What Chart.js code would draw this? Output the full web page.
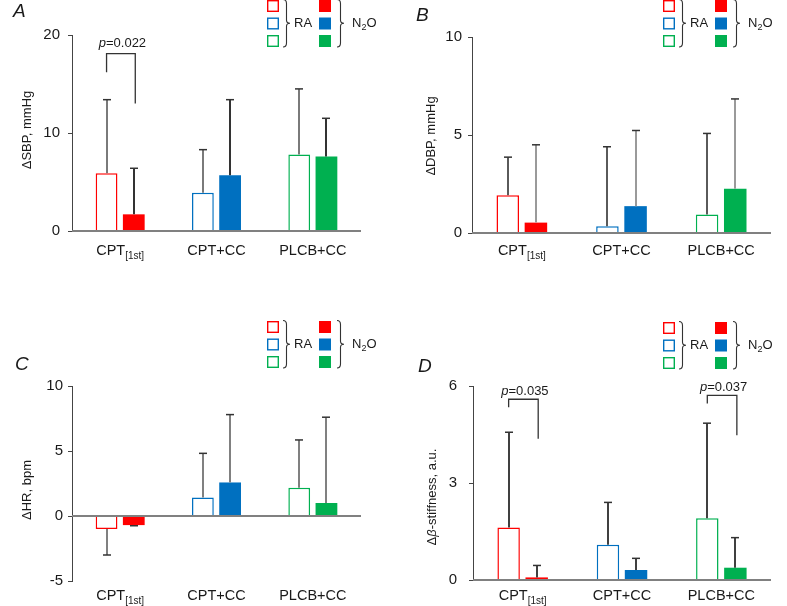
<!DOCTYPE html>
<html>
<head>
<meta charset="utf-8">
<script src="https://cdn.jsdelivr.net/npm/chart.js@4.4.1/dist/chart.umd.min.js"></script>
<style>
  html, body { margin: 0; padding: 0; background: #fff; }
  #wrap { position: relative; width: 787px; height: 606px; }
  #wrap canvas { position: absolute; }
</style>
</head>
<body>
<div id="wrap">
  <canvas id="pA" width="393" height="300" style="left:0;top:0"></canvas>
  <canvas id="pB" width="394" height="300" style="left:393px;top:0"></canvas>
  <canvas id="pC" width="393" height="306" style="left:0;top:300px"></canvas>
  <canvas id="pD" width="394" height="306" style="left:393px;top:300px"></canvas>
</div>
<script>
// categorias e subscritos dos rótulos do eixo x
var CATEGORIES = ["CPT", "CPT+CC", "PLCB+CC"];
var CATEGORY_SUBS = ["[1st]", "", ""];
var GROUP_COLORS = ["#ff0000", "#0070c0", "#00b050"];

// A -- ΔSBP (mmHg)
var SBP_RA = [5.9, 3.9, 7.8];
var SBP_RA_SD = [7.5, 4.4, 6.7];
var SBP_N2O = [1.7, 5.7, 7.6];
var SBP_N2O_SD = [4.7, 7.7, 3.9];
var SBP_TICKS = [0, 10, 20];
var SBP_BRACKETS = [{ cat: 0, top: 18.1, left: 16.2, right: 13.0, text: "=0.022" }];

// B -- ΔDBP (mmHg)
var DBP_RA = [1.92, 0.34, 0.94];
var DBP_RA_SD = [1.95, 4.06, 4.14];
var DBP_N2O = [0.53, 1.37, 2.26];
var DBP_N2O_SD = [3.97, 3.86, 4.58];
var DBP_TICKS = [0, 5, 10];

// C -- ΔHR (bpm)
var HR_RA = [-1.0, 1.43, 2.18];
var HR_RA_SD = [2.0, 3.39, 3.67];
var HR_N2O = [-0.7, 2.58, 1.0];
var HR_N2O_SD = [0.05, 5.22, 6.6];
var HR_TICKS = [-5, 0, 5, 10];

// D -- Δβ-stiffness (a.u.)
var STIFF_RA = [1.62, 1.09, 1.91];
var STIFF_RA_SD = [2.95, 1.31, 2.94];
var STIFF_N2O = [0.08, 0.31, 0.38];
var STIFF_N2O_SD = [0.37, 0.36, 0.93];
var STIFF_TICKS = [0, 3, 6];
var STIFF_BRACKETS = [
  { cat: 0, top: 5.59, left: 5.34, right: 4.37, text: "=0.035" },
  { cat: 2, top: 5.71, left: 5.46, right: 4.48, text: "=0.037" },
];

var FONT = "'Liberation Sans', Arial, sans-serif";
var INK = "#1a1a1a";

function font(size, italic) {
  return (italic ? "italic " : "") + size + "px " + FONT;
}

// chave "}" desenhada à mão
function brace(ctx, x, top, bottom, w) {
  var mid = (top + bottom) / 2, xm = x + w * 0.5;
  ctx.beginPath();
  ctx.moveTo(x, top);
  ctx.quadraticCurveTo(xm, top, xm, top + 4);
  ctx.lineTo(xm, mid - 3);
  ctx.quadraticCurveTo(xm, mid, x + w, mid);
  ctx.quadraticCurveTo(xm, mid, xm, mid + 3);
  ctx.lineTo(xm, bottom - 4);
  ctx.quadraticCurveTo(xm, bottom, x, bottom);
  ctx.stroke();
}

function drawLegend(ctx, L, T) {
  var rows = [T, T + 17.5, T + 35];
  ctx.save();
  rows.forEach(function (ry, i) {
    ctx.fillStyle = "#fff";
    ctx.strokeStyle = GROUP_COLORS[i];
    ctx.lineWidth = 1.4;
    ctx.fillRect(L, ry, 11, 11);
    ctx.strokeRect(L + 0.7, ry + 0.7, 10.6, 10.6);
    ctx.fillStyle = GROUP_COLORS[i];
    ctx.fillRect(L + 52, ry, 12, 12);
  });
  ctx.strokeStyle = "#333";
  ctx.lineWidth = 1.1;
  brace(ctx, L + 16, T - 0.5, T + 47, 7);
  brace(ctx, L + 70, T - 0.5, T + 47, 7);
  ctx.fillStyle = INK;
  ctx.textBaseline = "middle";
  ctx.textAlign = "left";
  ctx.font = font(13);
  ctx.fillText("RA", L + 27, T + 23.5);
  ctx.fillText("N", L + 85, T + 23.5);
  var wN = ctx.measureText("N").width;
  ctx.font = font(9);
  ctx.fillText("2", L + 85 + wN, T + 27.5);
  var w2 = ctx.measureText("2").width;
  ctx.font = font(13);
  ctx.fillText("O", L + 85 + wN + w2, T + 23.5);
  ctx.restore();
}

function drawParts(ctx, parts, x, y, size) {
  // parts: [[texto, itálico]] centrado em x
  var total = 0;
  parts.forEach(function (p) { ctx.font = font(size, p[1]); total += ctx.measureText(p[0]).width; });
  var cx = x - total / 2;
  parts.forEach(function (p) {
    ctx.font = font(size, p[1]);
    ctx.fillText(p[0], cx, y);
    cx += ctx.measureText(p[0]).width;
  });
}

var extras = {
  id: "extras",
  afterDatasetsDraw: function (chart, args, o) {
    var ctx = chart.ctx, ys = chart.scales.y, area = chart.chartArea;
    ctx.save();
    // linha do zero por cima das barras
    var y0 = Math.round(ys.getPixelForValue(0));
    ctx.strokeStyle = "#808080";
    ctx.lineWidth = 2;
    ctx.beginPath();
    ctx.moveTo(area.left, y0);
    ctx.lineTo(area.right, y0);
    ctx.stroke();
    // barras de erro (só para fora)
    o.sds.forEach(function (sd, di) {
      var meta = chart.getDatasetMeta(di);
      meta.data.forEach(function (bar, i) {
        var v = chart.data.datasets[di].data[i];
        var end = v + (v < 0 ? -sd[i] : sd[i]);
        var yv = ys.getPixelForValue(v), ye = ys.getPixelForValue(end);
        var x = Math.round(bar.x);
        ctx.strokeStyle = o.errColors[di];
        ctx.lineWidth = 2;
        ctx.beginPath();
        ctx.moveTo(x, yv);
        ctx.lineTo(x, ye);
        ctx.stroke();
        ctx.strokeStyle = "#333";
        ctx.lineWidth = 1.5;
        ctx.beginPath();
        ctx.moveTo(x - 4, ye);
        ctx.lineTo(x + 4, ye);
        ctx.stroke();
      });
    });
    // colchetes de significância
    (o.brackets || []).forEach(function (b) {
      var xl = chart.getDatasetMeta(0).data[b.cat].x;
      var xr = chart.getDatasetMeta(1).data[b.cat].x + 1.5;
      var yt = ys.getPixelForValue(b.top);
      ctx.strokeStyle = "#333";
      ctx.lineWidth = 1.3;
      ctx.beginPath();
      ctx.moveTo(xl, ys.getPixelForValue(b.left));
      ctx.lineTo(xl, yt);
      ctx.lineTo(xr, yt);
      ctx.lineTo(xr, ys.getPixelForValue(b.right));
      ctx.stroke();
      ctx.fillStyle = INK;
      ctx.textAlign = "left";
      ctx.textBaseline = "alphabetic";
      drawParts(ctx, [["p", true], [b.text, false]], (xl + xr) / 2 + 1.5, yt - o.pGap, 13);
    });
    ctx.restore();
  },
  afterDraw: function (chart, args, o) {
    var ctx = chart.ctx, xs = chart.scales.x, area = chart.chartArea;
    ctx.save();
    ctx.fillStyle = INK;
    ctx.textBaseline = "alphabetic";
    ctx.textAlign = "left";
    // rótulos do eixo x com subscrito
    CATEGORIES.forEach(function (c, i) {
      var cx = xs.getPixelForValue(i);
      var by = area.bottom + o.labelOffset;
      ctx.font = font(14.5);
      var wm = ctx.measureText(c).width;
      ctx.font = font(10);
      var wsub = CATEGORY_SUBS[i] ? ctx.measureText(CATEGORY_SUBS[i]).width : 0;
      var sx = cx - (wm + wsub) / 2;
      ctx.font = font(14.5);
      ctx.fillText(c, sx, by);
      if (CATEGORY_SUBS[i]) {
        ctx.font = font(10);
        ctx.fillText(CATEGORY_SUBS[i], sx + wm, by + 4);
      }
    });
    // título do eixo y
    ctx.save();
    ctx.translate(o.titleX, o.titleY);
    ctx.rotate(-Math.PI / 2);
    ctx.textBaseline = "middle";
    drawParts(ctx, o.title, 0, 0, 13);
    ctx.restore();
    // letra do painel
    ctx.font = font(19, true);
    ctx.fillText(o.letter, o.letterX, o.letterY);
    drawLegend(ctx, o.legendL, o.legendT);
    ctx.restore();
  },
};

function makePanel(id, cfg) {
  return new Chart(document.getElementById(id), {
    type: "bar",
    data: {
      labels: CATEGORIES,
      datasets: [
        {
          label: "RA",
          data: cfg.ra,
          backgroundColor: "#fff",
          borderColor: GROUP_COLORS,
          borderWidth: 1.5,
          categoryPercentage: 0.565,
          barPercentage: 0.8,
        },
        {
          label: "N2O",
          data: cfg.n2o,
          backgroundColor: GROUP_COLORS,
          borderWidth: 0,
          categoryPercentage: 0.565,
          barPercentage: 0.8,
        },
      ],
    },
    options: {
      responsive: false,
      animation: false,
      layout: { padding: cfg.pad },
      scales: {
        x: { display: false },
        y: {
          min: cfg.ticks[0],
          max: cfg.ticks[cfg.ticks.length - 1],
          afterBuildTicks: function (s) {
            s.ticks = cfg.ticks.map(function (v) { return { value: v }; });
          },
          afterFit: function (s) { s.width = cfg.yWidth; },
          border: { display: true, color: "#444", width: 1 },
          grid: { drawOnChartArea: false, tickColor: "#444", tickLength: 4 },
          ticks: { color: INK, padding: cfg.tickPad, font: { family: FONT, size: 15 } },
        },
      },
      plugins: {
        legend: { display: false },
        tooltip: { enabled: false },
        extras: {
          sds: [cfg.raSd, cfg.n2oSd],
          errColors: cfg.errColors,
          brackets: cfg.brackets,
          pGap: cfg.pGap || 5,
          labelOffset: cfg.labelOffset,
          title: cfg.title,
          titleX: cfg.titleX,
          titleY: cfg.titleY,
          letter: cfg.letter,
          letterX: cfg.letterX,
          letterY: cfg.letterY,
          legendL: cfg.legendL,
          legendT: cfg.legendT,
        },
      },
    },
    plugins: [extras],
  });
}

makePanel("pA", {
  ra: SBP_RA, raSd: SBP_RA_SD, n2o: SBP_N2O, n2oSd: SBP_N2O_SD, ticks: SBP_TICKS,
  brackets: SBP_BRACKETS, pGap: 7,
  yWidth: 72, pad: { top: 35, right: 32, bottom: 69, left: 0 }, tickPad: 8,
  errColors: ["#7a7a7a", "#333"], labelOffset: 24,
  title: [["ΔSBP, mmHg", false]], titleX: 27, titleY: 130,
  letter: "A", letterX: 13, letterY: 17, legendL: 267, legendT: 0,
});

makePanel("pB", {
  ra: DBP_RA, raSd: DBP_RA_SD, n2o: DBP_N2O, n2oSd: DBP_N2O_SD, ticks: DBP_TICKS,
  yWidth: 79, pad: { top: 37, right: 16, bottom: 67, left: 0 }, tickPad: 6,
  errColors: ["#5a5a5a", "#9a9a9a"], labelOffset: 22,
  title: [["ΔDBP, mmHg", false]], titleX: 38, titleY: 136,
  letter: "B", letterX: 23, letterY: 21, legendL: 270, legendT: 0,
});

makePanel("pC", {
  ra: HR_RA, raSd: HR_RA_SD, n2o: HR_N2O, n2oSd: HR_N2O_SD, ticks: HR_TICKS,
  yWidth: 72, pad: { top: 86, right: 32, bottom: 25, left: 0 }, tickPad: 5,
  errColors: ["#808080", "#808080"], labelOffset: 19,
  title: [["ΔHR, bpm", false]], titleX: 27, titleY: 190,
  letter: "C", letterX: 15, letterY: 70, legendL: 267, legendT: 21,
});

makePanel("pD", {
  ra: STIFF_RA, raSd: STIFF_RA_SD, n2o: STIFF_N2O, n2oSd: STIFF_N2O_SD, ticks: STIFF_TICKS,
  brackets: STIFF_BRACKETS, pGap: 4,
  yWidth: 80, pad: { top: 86, right: 16, bottom: 26, left: 0 }, tickPad: 12,
  errColors: ["#404040", "#404040"], labelOffset: 20,
  title: [["Δ", false], ["β", true], ["-stiffness, a.u.", false]], titleX: 39, titleY: 197,
  letter: "D", letterX: 25, letterY: 72, legendL: 270, legendT: 22,
});
</script>
</body>
</html>
